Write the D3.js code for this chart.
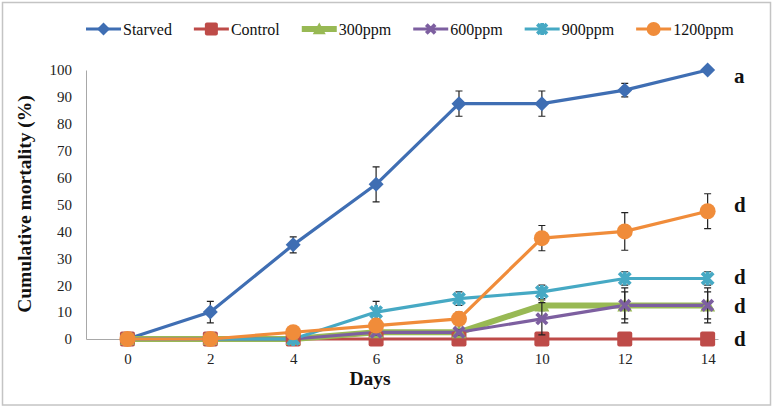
<!DOCTYPE html>
<html><head><meta charset="utf-8">
<script src="https://cdn.jsdelivr.net/npm/d3@7"></script>
<style>body{margin:0;background:#fff}svg{display:block}svg text{font-family:'Liberation Serif','Times New Roman',serif}</style>
</head><body><svg id="c" width="774" height="408"></svg>
<script>
// ---- data ----
const days = [0, 2, 4, 6, 8, 10, 12, 14];
const seriesNames = ["Starved", "Control", "300ppm", "600ppm", "900ppm", "1200ppm"];
const starved = [0, 10, 35, 57.5, 87.5, 87.5, 92.5, 100];
const control = [0, 0, 0, 0, 0, 0, 0, 0];
const ppm300 = [0, 0, 0, 2.5, 2.5, 12.5, 12.5, 12.5];
const ppm600 = [0, 0, 0, 2.5, 2.5, 7.5, 12.5, 12.5];
const ppm900 = [0, 0, 0, 10, 15, 17.5, 22.5, 22.5];
const ppm1200 = [0, 0, 2.5, 5, 7.5, 37.5, 40, 47.5];
const errStarved = [0, 4, 3, 6.5, 4.7, 4.7, 2.5, 0];
const errControl = [0, 0, 0, 0, 0, 0, 0, 0];
const err300 = [0, 1.5, 0, 1, 1, 2, 5, 5];
const err600 = [0, 0, 0, 1, 1, 6, 6.5, 6.5];
const err900 = [0, 0, 0, 4, 2.5, 2.5, 2.5, 2.5];
const err1200 = [0, 1.5, 2, 2.5, 2.5, 4.7, 7, 6.5];
const yTicks = [0, 10, 20, 30, 40, 50, 60, 70, 80, 90, 100];
const sigLetters = ["a", "d", "d", "d", "d"];
const sigAt = [98, 50, 23, 12.5, 0];

const values = [starved, control, ppm300, ppm600, ppm900, ppm1200];
const errors = [errStarved, errControl, err300, err600, err900, err1200];
const colors = ["#3F6EB3", "#BE4B48", "#98B954", "#7D5FA0", "#46A9C4", "#F08C3A"];
const shapes = ["diamond", "square", "triangle", "x", "star", "circle"];
const widths = [3.2, 3, 6, 3.2, 3.2, 3.2];

const svg = d3.select("#c");
const serif = "'Liberation Serif','Times New Roman',serif";

// outer border
svg.append("rect").attr("x", 2.5).attr("y", 2.5).attr("width", 768).attr("height", 402.5)
  .attr("fill", "#fff").attr("stroke", "#C4C4C4").attr("stroke-width", 1.5);

const x = d3.scaleLinear().domain([-1, 14.25]).range([86, 718]);
const y = d3.scaleLinear().domain([0, 100]).range([339, 70]);

// axes
const yAxis = svg.append("g").attr("transform", `translate(${x(-1)},0)`)
  .call(d3.axisLeft(y).tickValues(yTicks).tickSize(0).tickPadding(14));
yAxis.attr("font-family", null);
yAxis.select(".domain").attr("stroke", "#A8A8A8").attr("stroke-width", 1);
yAxis.selectAll("text").style("font-family", serif).style("font-size", "15px").attr("fill", "#222");

const xAxis = svg.append("g").attr("transform", `translate(0,${y(0)})`)
  .call(d3.axisBottom(x).tickValues(days).tickSize(0).tickPadding(14).tickFormat(d3.format("d")));
xAxis.attr("font-family", null);
xAxis.select(".domain").attr("stroke", "#A8A8A8").attr("stroke-width", 1);
xAxis.selectAll("text").style("font-family", serif).style("font-size", "15px").attr("fill", "#222");

// axis titles
svg.append("text").attr("transform", `translate(31,204) rotate(-90)`).attr("text-anchor", "middle")
  .style("font-family", serif).style("font-weight", "bold").style("font-size", "19.5px").attr("fill", "#111")
  .text("Cumulative mortality (%)");
svg.append("text").attr("x", 370).attr("y", 385).attr("text-anchor", "middle")
  .style("font-family", serif).style("font-weight", "bold").style("font-size", "19.5px").attr("fill", "#111")
  .text("Days");

// marker drawing
function marker(g, shape, color, cx, cy, s) {
  if (shape === "diamond") {
    g.append("path").attr("d", `M${cx},${cy - s}L${cx + s},${cy}L${cx},${cy + s}L${cx - s},${cy}Z`).attr("fill", color);
  } else if (shape === "square") {
    g.append("rect").attr("x", cx - s).attr("y", cy - s).attr("width", 2 * s).attr("height", 2 * s)
      .attr("rx", 2).attr("fill", color);
  } else if (shape === "triangle") {
    g.append("path").attr("d", `M${cx},${cy - s}L${cx + s},${cy + s * 0.8}L${cx - s},${cy + s * 0.8}Z`).attr("fill", color);
  } else if (shape === "circle") {
    g.append("circle").attr("cx", cx).attr("cy", cy).attr("r", s).attr("fill", color);
  } else if (shape === "x" || shape === "star") {
    const k = s * 0.8;
    let d = `M${cx - k},${cy - k}L${cx + k},${cy + k}M${cx - k},${cy + k}L${cx + k},${cy - k}`;
    if (shape === "star") d += `M${cx},${cy - s}L${cx},${cy + s}`;
    g.append("path").attr("d", d).attr("stroke", color).attr("stroke-width", 3.8).attr("fill", "none");
  }
}
const msize = [7.5, 7.5, 7.5, 6.5, 7, 8];

const plot = svg.append("g");
const line = d3.line().x((d, i) => x(days[i])).y(d => y(d));
values.forEach((v, si) => {
  plot.append("path").attr("d", line(v)).attr("fill", "none").attr("stroke", colors[si])
    .attr("stroke-width", widths[si]).attr("stroke-linejoin", "round");
});
values.forEach((v, si) => {
  const g = plot.append("g");
  v.forEach((val, i) => {
    const e = errors[si][i];
    if (e > 0) {
      const cx = x(days[i]);
      g.append("path").attr("d",
        `M${cx},${y(val - e)}L${cx},${y(val + e)}M${cx - 3.5},${y(val + e)}L${cx + 3.5},${y(val + e)}M${cx - 3.5},${y(val - e)}L${cx + 3.5},${y(val - e)}`)
        .attr("stroke", "#222").attr("stroke-width", 1.2).attr("fill", "none");
    }
  });
  v.forEach((val, i) => marker(g, shapes[si], colors[si], x(days[i]), y(val), msize[si]));
});

// significance letters
sigLetters.forEach((l, i) => {
  svg.append("text").attr("x", 734).attr("y", y(sigAt[i])).attr("dy", "0.35em")
    .style("font-family", serif).style("font-weight", "bold").style("font-size", "21px").attr("fill", "#111").text(l);
});

// legend
let lx = 86;
const ly = 29;
seriesNames.forEach((name, si) => {
  const g = svg.append("g");
  g.append("line").attr("x1", lx).attr("x2", lx + 35).attr("y1", ly).attr("y2", ly)
    .attr("stroke", colors[si]).attr("stroke-width", widths[si]);
  marker(g, shapes[si], colors[si], lx + 17.5, ly, msize[si] - 1);
  const t = g.append("text").attr("x", lx + 37).attr("y", ly + 5.5)
    .style("font-family", serif).style("font-size", "16px").attr("fill", "#111").text(name);
  lx = lx + 37 + t.node().getComputedTextLength() + 22;
});
</script></body></html>
